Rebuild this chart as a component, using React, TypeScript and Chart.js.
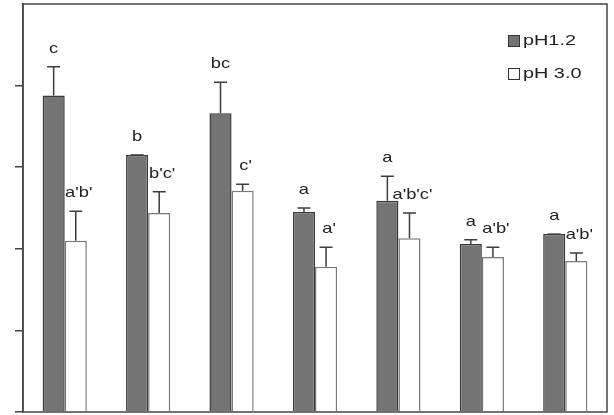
import React, { useEffect, useRef } from "react";
import { Chart, registerables } from "chart.js";

Chart.register(...registerables);

const categories = ["1", "2", "3", "4", "5", "6", "7"];
const seriesNames = ["pH1.2", "pH 3.0"];
const ph12Values = [3.88, 3.15, 3.66, 2.45, 2.59, 2.06, 2.18];
const ph12Errors = [0.35, 0.0, 0.38, 0.05, 0.30, 0.05, 0.0];
const ph12Labels = ["c", "b", "bc", "a", "a", "a", "a"];
const ph30Values = [2.1, 2.44, 2.71, 1.78, 2.13, 1.9, 1.85];
const ph30Errors = [0.36, 0.26, 0.08, 0.24, 0.31, 0.12, 0.1];
const ph30Labels = ["a'b'", "b'c'", "c'", "a'", "a'b'c'", "a'b'", "a'b'"];
const yTicks = [0, 1, 2, 3, 4, 5];

const errors = [ph12Errors, ph30Errors];
const letters = [ph12Labels, ph30Labels];
const fills = ["#747474", "#ffffff"];
const borders = ["#3a3a3a", "#7a7a7a"];

function stretchedText(ctx: any, text: string, x: number, y: number, size: number, sx: number, align: string) {
  ctx.save();
  ctx.translate(x, y);
  ctx.scale(sx, 1);
  ctx.fillStyle = "#222";
  ctx.font = size + 'px "Liberation Sans", Arial, sans-serif';
  ctx.textAlign = align;
  ctx.textBaseline = "middle";
  ctx.fillText(text, 0, 0);
  ctx.restore();
}

const errorPlugin = {
  id: "errorsAndLetters",
  afterDatasetsDraw(chart: any) {
    const ctx = chart.ctx;
    const y = chart.scales.y;
    ctx.save();
    chart.data.datasets.forEach((ds: any, di: number) => {
      const meta = chart.getDatasetMeta(di);
      meta.data.forEach((bar: any, i: number) => {
        const v = ds.data[i];
        const e = errors[di][i];
        const yTop = y.getPixelForValue(v);
        const yErr = y.getPixelForValue(v + e);
        const x = bar.x;
        ctx.strokeStyle = "#3c3c3c";
        ctx.lineWidth = 1.5;
        ctx.beginPath();
        ctx.moveTo(x, yTop);
        ctx.lineTo(x, yErr);
        ctx.moveTo(x - 6.5, yErr);
        ctx.lineTo(x + 6.5, yErr);
        ctx.stroke();
        stretchedText(ctx, letters[di][i], x + (di === 1 ? 3 : 0), yErr - 18, 15, 1.22, "center");
      });
    });
    ctx.restore();
  },
};

const framePlugin = {
  id: "frameLegend",
  afterDraw(chart: any) {
    const { ctx, chartArea } = chart;
    ctx.save();
    ctx.strokeStyle = "#444";
    ctx.lineWidth = 1.5;
    ctx.strokeRect(chartArea.left, chartArea.top, chartArea.right - chartArea.left, chartArea.bottom - chartArea.top);
    const lx = 508;
    const rows = [41, 74];
    rows.forEach((ry, k) => {
      ctx.fillStyle = fills[k];
      ctx.fillRect(lx, ry - 6, 12, 12);
      ctx.strokeStyle = "#333";
      ctx.lineWidth = 1;
      ctx.strokeRect(lx + 0.5, ry - 5.5, 11, 11);
      stretchedText(ctx, seriesNames[k], lx + 15, ry, 15.5, 1.28, "left");
    });
    ctx.restore();
  },
};

export default function App() {
  const ref = useRef<HTMLCanvasElement>(null);
  useEffect(() => {
    if (!ref.current) return;
    const chart = new Chart(ref.current, {
      type: "bar",
      data: {
        labels: categories,
        datasets: [ph12Values, ph30Values].map((d, k) => ({
          label: seriesNames[k],
          data: d,
          backgroundColor: fills[k],
          borderColor: borders[k],
          borderWidth: 1.5,
          categoryPercentage: 0.53,
          barPercentage: 1.0,
        })),
      },
      options: {
        animation: false,
        responsive: true,
        maintainAspectRatio: false,
        layout: { padding: { left: 15, top: 4, right: 7, bottom: 3 } },
        plugins: { legend: { display: false }, tooltip: { enabled: false } },
        scales: {
          x: { display: false },
          y: {
            min: yTicks[0],
            max: yTicks[yTicks.length - 1],
            afterBuildTicks: (axis: any) => {
              axis.ticks = yTicks.map((v) => ({ value: v }));
            },
            ticks: { display: false },
            grid: {
              drawOnChartArea: false,
              tickLength: 8,
              color: (c: any) => (c.tick && c.tick.value === 5 ? "rgba(0,0,0,0)" : "#444"),
              lineWidth: 1.5,
            },
            border: { display: true, color: "#444", width: 1.5 },
          },
        },
      },
      plugins: [errorPlugin, framePlugin],
    });
    return () => chart.destroy();
  }, []);
  return (
    <div style={{ position: "fixed", left: 0, top: 0, width: 614, height: 415, background: "#fff" }}>
      <canvas ref={ref} />
    </div>
  );
}
